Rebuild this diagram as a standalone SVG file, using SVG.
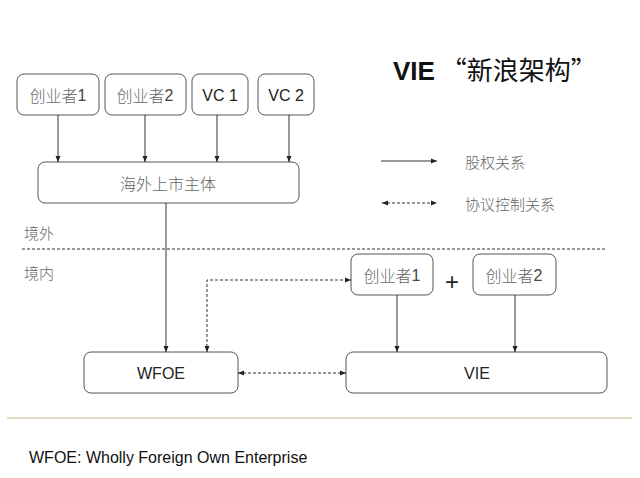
<svg xmlns="http://www.w3.org/2000/svg" width="640" height="478" viewBox="0 0 640 478">
<style>
.box{fill:#fff;stroke:#555;stroke-width:1}
.lbl{font-family:"Liberation Sans","Noto Sans CJK SC",sans-serif;font-size:16px;fill:#222;text-anchor:middle;dominant-baseline:central}
.cn{font-family:"Noto Sans CJK SC",sans-serif;font-weight:300;fill:#666}
.ln{fill:none;stroke:#333;stroke-width:1}
.dash{stroke-dasharray:3,2}
</style>
<defs>
<marker id="ah" viewBox="0 0 6 6" refX="6" refY="3" markerWidth="6" markerHeight="6" orient="auto-start-reverse" markerUnits="userSpaceOnUse">
<path d="M0,0.5 L6,3 L0,5.5 Z" fill="#222"/>
</marker>
</defs>
<rect width="640" height="478" fill="#fff"/>
<text x="393" y="80" font-family="Liberation Sans,'Noto Sans CJK SC',sans-serif" font-size="26" fill="#111"><tspan font-weight="bold">VIE</tspan><tspan font-family="'Noto Sans CJK SC',sans-serif" font-weight="400"> “新浪架构”</tspan></text>

<g id="founder1"><rect class="box" x="17" y="74" width="82" height="41" rx="7"/><text class="lbl" x="58" y="95"><tspan class="cn">创业者</tspan><tspan fill="#444">1</tspan></text></g>
<g id="founder2"><rect class="box" x="105" y="74" width="81" height="41" rx="7"/><text class="lbl" x="145" y="95"><tspan class="cn">创业者</tspan><tspan fill="#444">2</tspan></text></g>
<g id="vc1"><rect class="box" x="192" y="74" width="56" height="41" rx="7"/><text class="lbl" x="220" y="95">VC 1</text></g>
<g id="vc2"><rect class="box" x="258" y="74" width="56" height="41" rx="7"/><text class="lbl" x="286" y="95">VC 2</text></g>
<g id="offshore"><rect class="box" x="38" y="162" width="261" height="41" rx="7"/><text class="lbl cn" x="168" y="183">海外上市主体</text></g>

<g id="wfoe"><rect class="box" x="84" y="352" width="154" height="41" rx="7"/><text class="lbl" x="161" y="373">WFOE</text></g>
<g id="vie"><rect class="box" x="346" y="352" width="261" height="41" rx="7"/><text class="lbl" x="477" y="373">VIE</text></g>
<g id="founder1b"><rect class="box" x="351" y="254" width="82" height="41" rx="7"/><text class="lbl" x="392" y="275"><tspan class="cn">创业者</tspan><tspan fill="#444">1</tspan></text></g>
<g id="founder2b"><rect class="box" x="473" y="254" width="83" height="41" rx="7"/><text class="lbl" x="514" y="275"><tspan class="cn">创业者</tspan><tspan fill="#444">2</tspan></text></g>
<text x="452" y="281" font-family="Liberation Sans,sans-serif" font-size="24" fill="#222" text-anchor="middle" dominant-baseline="central">+</text>

<text x="24" y="232" class="cn" font-size="15" dominant-baseline="central">境外</text>
<text x="24" y="272" class="cn" font-size="15" dominant-baseline="central">境内</text>
<line x1="22" y1="249" x2="607" y2="249" stroke="#333" stroke-width="1" stroke-dasharray="3,2"/>

<g id="connectors">
<line class="ln" x1="58" y1="115" x2="58" y2="162" marker-end="url(#ah)"/>
<line class="ln" x1="145" y1="115" x2="145" y2="162" marker-end="url(#ah)"/>
<line class="ln" x1="217" y1="115" x2="217" y2="162" marker-end="url(#ah)"/>
<line class="ln" x1="289" y1="115" x2="289" y2="162" marker-end="url(#ah)"/>
<line class="ln" x1="166" y1="203" x2="166" y2="352" marker-end="url(#ah)"/>
<path class="ln dash" d="M207,352 L207,280 L351,280" marker-start="url(#ah)" marker-end="url(#ah)"/>
<line class="ln" x1="397" y1="295" x2="397" y2="352" marker-end="url(#ah)"/>
<line class="ln" x1="515" y1="295" x2="515" y2="352" marker-end="url(#ah)"/>
<line class="ln dash" x1="238" y1="373" x2="346" y2="373" marker-start="url(#ah)" marker-end="url(#ah)"/>
<line class="ln" x1="381" y1="161" x2="437" y2="161" marker-end="url(#ah)"/>
<line class="ln dash" x1="382" y1="203" x2="437" y2="203" marker-start="url(#ah)" marker-end="url(#ah)"/>
</g>
<text x="465" y="161" class="cn" font-size="15" dominant-baseline="central">股权关系</text>
<text x="465" y="203" class="cn" font-size="15" dominant-baseline="central">协议控制关系</text>

<line x1="7" y1="418" x2="632" y2="418" stroke="#d6cfae" stroke-width="1.5"/>
<text x="29" y="463" font-family="Liberation Sans,sans-serif" font-size="16" fill="#111">WFOE: Wholly Foreign Own Enterprise</text>
</svg>
